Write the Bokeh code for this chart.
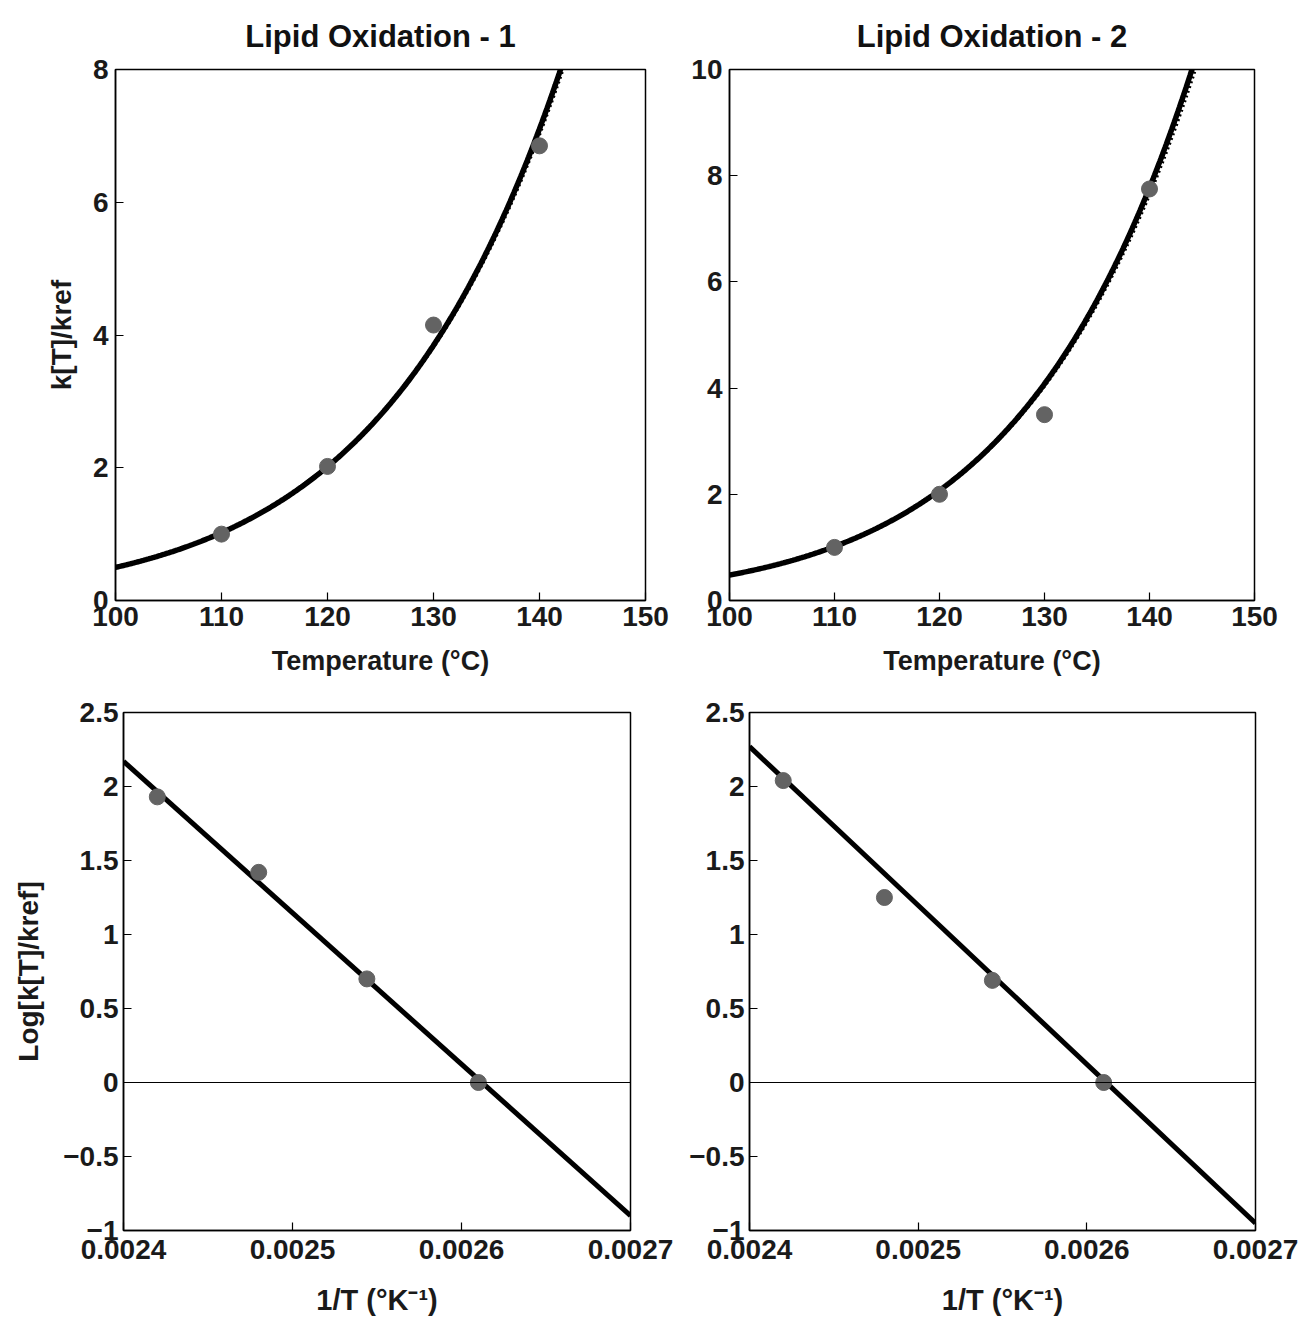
import numpy as np
from bokeh.plotting import figure
from bokeh.layouts import column, row
from bokeh.models import FixedTicker, CustomJSTickFormatter, Span
from bokeh.embed import file_html
from bokeh.resources import INLINE

# ---- data ----
temps_c = [110, 120, 130, 140]
k_ratio_1 = [1.0, 2.02, 4.15, 6.85]
k_ratio_2 = [1.0, 2.0, 3.5, 7.75]

inv_t = [0.002420, 0.002480, 0.002544, 0.002610]
log_k_1 = [1.93, 1.42, 0.70, 0.0]
log_k_2 = [2.04, 1.25, 0.69, 0.0]

# fitted Arrhenius lines (end points read at 1/T = 0.0024 and 0.0027)
fit_inv_t = [0.0024, 0.0027]
fit_log_1 = [2.17, -0.90]
fit_log_2 = [2.27, -0.95]
# second (dotted) model, nearly coincident
alt_log_1 = [2.155, -0.89]
alt_log_2 = [2.25, -0.94]

titles = ["Lipid Oxidation - 1", "Lipid Oxidation - 2"]
top_x_ticks = [100, 110, 120, 130, 140, 150]
top_y_ticks_1 = [0, 2, 4, 6, 8]
top_y_ticks_2 = [0, 2, 4, 6, 8, 10]
bot_x_ticks = [0.0024, 0.0025, 0.0026, 0.0027]
bot_y_ticks = [-1, -0.5, 0, 0.5, 1, 1.5, 2, 2.5]

FONT = "Liberation Sans"


def model_curve(fit_x, fit_y, t_lo=100.0, t_hi=150.0, n=400):
    t = np.linspace(t_lo, t_hi, n)
    x = 1.0 / (t + 273.15)
    slope = (fit_y[1] - fit_y[0]) / (fit_x[1] - fit_x[0])
    return t, np.exp(fit_y[0] + slope * (x - fit_x[0]))


def style(p, xticks, yticks, xlab, ylab=None, xfmt=None, yfmt=None,
          xtick_standoff=6, xlab_standoff=14, ylab_standoff=18,
          xlab_size="27px", ylab_size="28px", ytick_standoff=6):
    p.outline_line_color = "black"
    p.outline_line_width = 1.5
    p.xgrid.visible = False
    p.ygrid.visible = False
    p.xaxis.ticker = FixedTicker(ticks=xticks)
    p.yaxis.ticker = FixedTicker(ticks=yticks)
    if xfmt is not None:
        p.xaxis.formatter = xfmt
    if yfmt is not None:
        p.yaxis.formatter = yfmt
    for ax in (p.xaxis[0], p.yaxis[0]):
        ax.major_tick_in = 8
        ax.major_tick_out = 0
        ax.minor_tick_line_color = None
        ax.axis_line_color = "black"
        ax.axis_line_width = 1.5
        ax.major_tick_line_width = 1.2
        ax.major_label_text_font = FONT
        ax.major_label_text_font_style = "bold"
        ax.major_label_text_font_size = "28px"
        ax.major_label_text_color = "#1a1a1a"
        ax.axis_label_text_font = FONT
        ax.axis_label_text_font_style = "bold"
        ax.axis_label_text_color = "#1a1a1a"
    p.xaxis.major_label_standoff = xtick_standoff
    p.yaxis.major_label_standoff = ytick_standoff
    p.xaxis.axis_label = xlab
    p.xaxis.axis_label_text_font_size = xlab_size
    p.xaxis.axis_label_standoff = xlab_standoff
    if ylab:
        p.yaxis.axis_label = ylab
        p.yaxis.axis_label_text_font_size = ylab_size
        p.yaxis.axis_label_standoff = ylab_standoff


def style_title(p, text):
    p.title.text = text
    p.title.align = "center"
    p.title.text_font = FONT
    p.title.text_font_style = "bold"
    p.title.text_font_size = "31px"
    p.title.text_color = "#111111"
    p.title.standoff = 32


x_fmt = CustomJSTickFormatter(code="return tick.toFixed(4);")
y_fmt = CustomJSTickFormatter(code="""
    const r = Math.round(tick * 10) / 10;
    if (r === 0) return '0';
    const s = Math.abs(r).toString();
    return (r < 0 ? '\u2212' : '') + s;
""")

LINE = "black"
DOT = "#636363"

# ---- top left ----
p1 = figure(width=680, height=690, x_range=(100, 150), y_range=(0, 8),
            output_backend="svg", toolbar_location=None,
            min_border_left=115, min_border_right=35,
            min_border_top=69, min_border_bottom=90)
style_title(p1, titles[0])
style(p1, top_x_ticks, top_y_ticks_1, "Temperature (°C)", "k[T]/kref",
      xlab_standoff=17, ylab_standoff=13, ytick_standoff=7)
tx, ty = model_curve(fit_inv_t, fit_log_1)
ax_, ay_ = model_curve(fit_inv_t, alt_log_1)
p1.line(ax_, ay_, line_color=LINE, line_width=3, line_dash="2 3")
p1.line(tx, ty, line_color=LINE, line_width=5.5)
p1.scatter(temps_c, k_ratio_1, size=16, color=DOT)

# ---- top right ----
p2 = figure(width=624, height=690, x_range=(100, 150), y_range=(0, 10),
            output_backend="svg", toolbar_location=None,
            min_border_left=49, min_border_right=50,
            min_border_top=69, min_border_bottom=90)
style_title(p2, titles[1])
style(p2, top_x_ticks, top_y_ticks_2, "Temperature (°C)", xlab_standoff=17,
      ytick_standoff=7)
tx, ty = model_curve(fit_inv_t, fit_log_2)
ax_, ay_ = model_curve(fit_inv_t, alt_log_2)
p2.line(ax_, ay_, line_color=LINE, line_width=3, line_dash="2 3")
p2.line(tx, ty, line_color=LINE, line_width=5.5)
p2.scatter(temps_c, k_ratio_2, size=16, color=DOT)

# ---- bottom left ----
p3 = figure(width=680, height=630, x_range=(0.0024, 0.0027), y_range=(-1, 2.5),
            output_backend="svg", toolbar_location=None,
            min_border_left=123, min_border_right=50,
            min_border_top=22, min_border_bottom=90)
style(p3, bot_x_ticks, bot_y_ticks, "1/T (°K⁻¹)", "Log[k[T]/kref]",
      xfmt=x_fmt, yfmt=y_fmt, xtick_standoff=9, xlab_standoff=22,
      ylab_standoff=16, ytick_standoff=5, xlab_size="29px", ylab_size="28px")
p3.add_layout(Span(location=0, dimension="width", line_color="black", line_width=1.2))
p3.line(fit_inv_t, fit_log_1, line_color=LINE, line_width=5)
p3.scatter(inv_t, log_k_1, size=16, color=DOT)

# ---- bottom right ----
p4 = figure(width=624, height=630, x_range=(0.0024, 0.0027), y_range=(-1, 2.5),
            output_backend="svg", toolbar_location=None,
            min_border_left=69, min_border_right=49,
            min_border_top=22, min_border_bottom=90)
style(p4, bot_x_ticks, bot_y_ticks, "1/T (°K⁻¹)",
      xfmt=x_fmt, yfmt=y_fmt, xtick_standoff=9, xlab_standoff=22,
      ytick_standoff=5, xlab_size="29px")
p4.add_layout(Span(location=0, dimension="width", line_color="black", line_width=1.2))
p4.line(fit_inv_t, fit_log_2, line_color=LINE, line_width=5)
p4.scatter(inv_t, log_k_2, size=16, color=DOT)

layout = column(row(p1, p2), row(p3, p4))
open("out.html", "w").write(file_html(layout, INLINE))
